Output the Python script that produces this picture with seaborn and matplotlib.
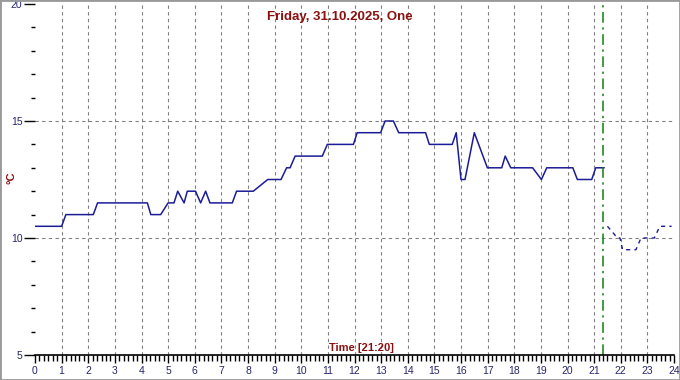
import matplotlib
matplotlib.use("Agg")
import matplotlib.pyplot as plt
import seaborn as sns
import pandas as pd
import numpy as np
from matplotlib.patches import Rectangle
from matplotlib.ticker import MultipleLocator

hours_obs = [0, 1.0, 1.16, 2.19, 2.35, 4.22, 4.35, 4.72, 5.0, 5.22, 5.36, 5.6, 5.72,
             6.03, 6.22, 6.41, 6.57, 7.41, 7.57, 8.2, 8.74, 9.24, 9.45, 9.58, 9.77,
             10.79, 10.98, 11.96, 12.1, 12.98, 13.15, 13.46, 13.66, 14.67, 14.81,
             15.67, 15.82, 16.0, 16.15, 16.5, 16.99, 17.53, 17.66, 17.87, 18.69,
             19.02, 19.22, 20.2, 20.37, 20.91, 21.06, 21.38]
temp_obs = [10.5, 10.5, 11, 11, 11.5, 11.5, 11, 11, 11.5, 11.5, 12, 11.5, 12,
            12, 11.5, 12, 11.5, 11.5, 12, 12, 12.5, 12.5, 13, 13, 13.5,
            13.5, 14, 14, 14.5, 14.5, 15, 15, 14.5, 14.5, 14,
            14, 14.5, 12.5, 12.5, 14.5, 13, 13, 13.5, 13, 13,
            12.5, 13, 13, 12.5, 12.5, 13, 13]
hours_fc = [21.5, 21.88, 21.97, 22.07, 22.57, 22.76, 23.26, 23.47, 23.91]
temp_fc = [10.5, 10, 10, 9.5, 9.5, 10, 10, 10.5, 10.5]
now_hour = 21 + 20 / 60
x_ticks = list(range(0, 25))
y_ticks = [5, 10, 15, 20]
title = "Friday, 31.10.2025, One"
time_label = "Time [21:20]"

sns.set_style("white")
plt.rcParams['font.family'] = ['Liberation Sans', 'DejaVu Sans']

W, H = 680, 380
fig = plt.figure(figsize=(W / 100, H / 100), dpi=100)
ax = fig.add_axes([35 / W, 25 / H, (674 - 35) / W, (355 - 4) / H])

line_col = '#1c1c96'
red = '#8b1010'
navy = '#26266e'

df_obs = pd.DataFrame({'h': hours_obs, 't': temp_obs})
df_fc = pd.DataFrame({'h': hours_fc, 't': temp_fc})
sns.lineplot(data=df_obs, x='h', y='t', ax=ax, color=line_col, lw=1.1, sort=False)
sns.lineplot(data=df_fc, x='h', y='t', ax=ax, color=line_col, lw=1.0, sort=False,
             linestyle=(0, (3, 3)))

ax.set_xlim(0, 24)
ax.set_ylim(5, 20)

for h in x_ticks[1:-1]:
    ax.axvline(h, color='#808080', lw=0.8, linestyle=(0, (3, 3)), zorder=0)
for v in [10, 15]:
    ax.axhline(v, color='#808080', lw=0.8, linestyle=(0, (3, 3)), zorder=0)
ax.axvline(now_hour, color='#108010', lw=1.1, linestyle=(0, (7, 3, 1.5, 3)))

for s in ['top', 'right', 'left']:
    ax.spines[s].set_visible(False)
ax.spines['bottom'].set_color('black')
ax.spines['bottom'].set_linewidth(1.2)

ax.set_xticks(x_ticks)
ax.set_xticklabels([str(h) for h in x_ticks])
ax.xaxis.set_minor_locator(MultipleLocator(1 / 6))
ax.set_yticks(y_ticks)
ax.set_yticklabels([str(v) for v in y_ticks])
ax.yaxis.set_minor_locator(MultipleLocator(1))
ax.tick_params(axis='x', which='major', direction='out', length=6, width=1, color='black',
               labelsize=7.5, labelcolor=navy, pad=2, bottom=True)
ax.tick_params(axis='x', which='minor', direction='out', length=4, width=1, color='black', bottom=True)
ax.tick_params(axis='y', which='major', direction='out', length=8, width=1, color='black',
               labelsize=7.5, labelcolor=navy, pad=1, left=True)
ax.tick_params(axis='y', which='minor', direction='out', length=3, width=1, color='black', left=True)
ax.set_xlabel('')
ax.set_ylabel('')

fig.text(340 / W, 1 - 17 / H, title, ha='center', va='center', color=red,
         fontsize=9.5, fontweight='bold')
fig.text(361 / W, 1 - 348 / H, time_label, ha='center', va='center', color=red,
         fontsize=8, fontweight='bold')
fig.text(11 / W, 1 - 178 / H, '°C', ha='center', va='center', color=red,
         fontsize=8, fontweight='bold', rotation=90)

fig.patches.append(Rectangle((0, 0), 1, 1, transform=fig.transFigure, fill=False,
                             edgecolor='#999999', lw=2))

fig.savefig('out.png', dpi=100)
